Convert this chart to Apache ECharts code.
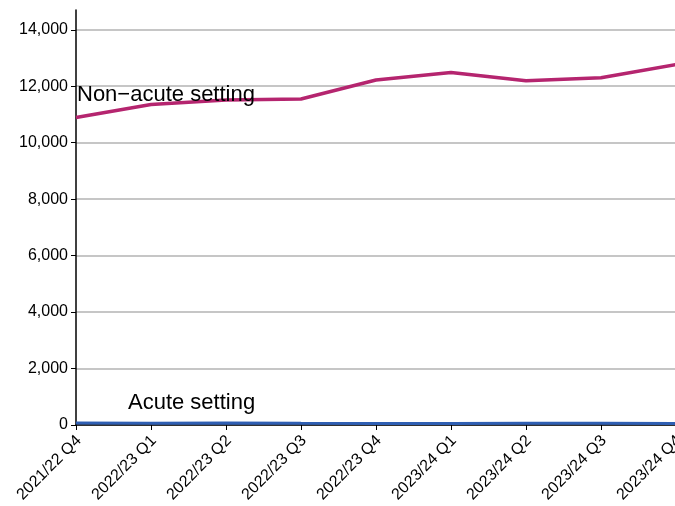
<!DOCTYPE html>
<html><head><meta charset="utf-8">
<script src="https://cdn.jsdelivr.net/npm/echarts@6/dist/echarts.min.js"></script>
<style>html,body{margin:0;padding:0;background:#fff}#c{width:675px;height:506px}</style>
</head><body><div id="c"></div>
<script>
const categories = ['2021/22 Q4','2022/23 Q1','2022/23 Q2','2022/23 Q3','2022/23 Q4','2023/24 Q1','2023/24 Q2','2023/24 Q3','2023/24 Q4'];
const nonAcute = [10890, 11350, 11510, 11550, 12220, 12490, 12190, 12300, 12770];
const acute = [70, 65, 70, 60, 55, 55, 60, 60, 55];
const seriesNames = ['Non\u2212acute setting', 'Acute setting'];

const font = 'Liberation Sans, Arial, sans-serif';
const chart = echarts.init(document.getElementById('c'));
chart.setOption({
  animation: false,
  grid: { left: 76, top: 10, right: -1, bottom: 81, containLabel: false, outerBoundsMode: 'none' },
  xAxis: {
    type: 'category', data: categories, boundaryGap: false,
    axisLine: { lineStyle: { color: '#000', width: 1.5 } },
    axisTick: { show: true, alignWithLabel: true, length: 5, lineStyle: { color: '#000' } },
    axisLabel: { rotate: 45, color: '#000', fontSize: 16, fontFamily: font, margin: 16, interval: 0, hideOverlap: false,
      padding: [0, -4, 0, 0] },
  },
  yAxis: {
    type: 'value', min: 0, max: 14700, interval: 2000,
    axisLine: { show: true, lineStyle: { color: '#000', width: 1.5 } },
    axisTick: { show: true, length: 5, lineStyle: { color: '#000' } },
    axisLabel: { color: '#000', fontSize: 16, fontFamily: font, margin: 8, showMaxLabel: false,
      formatter: v => v.toLocaleString('en-US') },
    splitLine: { show: true, lineStyle: { color: ['#b3b3b3','#b3b3b3','#b3b3b3','#b3b3b3','#b3b3b3','#b3b3b3','#b3b3b3','#b3b3b3','rgba(0,0,0,0)'], width: 1.5 } }
  },
  series: [
    {
      name: seriesNames[0], type: 'line', data: nonAcute.map((v, i) => i === 0 ? { value: v, label: { show: true, formatter: seriesNames[0] } } : v),
      symbol: 'circle', symbolSize: 0, showSymbol: true, lineStyle: { color: '#b5256f', width: 3.5 }, itemStyle: { color: '#b5256f' },
      label: { show: false, position: 'inside', align: 'left', verticalAlign: 'middle', offset: [1, -23], color: '#000', fontSize: 22, fontFamily: font },
      z: 3
    },
    {
      name: seriesNames[1], type: 'line', data: acute.map((v, i) => i === 1 ? { value: v, label: { show: true, formatter: seriesNames[1] } } : v),
      symbol: 'circle', symbolSize: 0, showSymbol: true, lineStyle: { color: '#2f5fb3', width: 3 }, itemStyle: { color: '#2f5fb3' },
      label: { show: false, position: 'inside', align: 'left', verticalAlign: 'middle', offset: [-23, -20], color: '#000', fontSize: 22, fontFamily: font },
      z: 2
    }
  ]
});
</script></body></html>
